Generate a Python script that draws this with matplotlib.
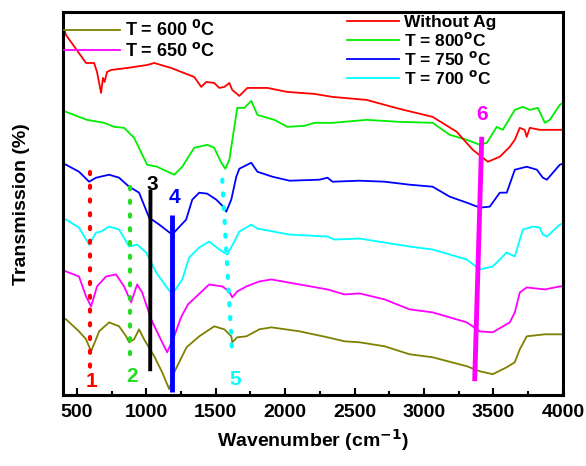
import numpy as np
import matplotlib
matplotlib.use('Agg')
import matplotlib.pyplot as plt

plt.rcParams['font.family'] = ['Liberation Sans', 'DejaVu Sans']
plt.rcParams['font.weight'] = 'bold'
plt.rcParams['mathtext.default'] = 'bf'

# espectros FTIR (desplazados verticalmente, unidades arbitrarias)
w_sin = [405, 422, 566, 624, 645, 674, 688, 700, 717, 746, 862, 1006, 1057, 1179, 1345, 1396,
         1432, 1489, 1526, 1562, 1598, 1619, 1670, 1728, 1872, 2016, 2211, 2341, 2586, 2824,
         3062, 3236, 3351, 3460, 3546, 3618, 3654, 3690, 3725, 3740, 3762, 3834, 4000]
t_sin = [372, 365, 337, 337, 328, 307, 322, 318, 328, 330, 332, 335, 337, 332, 323, 313,
         318, 317, 312, 313, 317, 310, 304, 312, 312, 308, 306, 303, 300, 291,
         283, 268, 250, 238, 243, 253, 260, 272, 270, 263, 272, 270, 270]

w_800 = [405, 422, 573, 696, 768, 840, 912, 1006, 1078, 1201, 1259, 1345, 1439, 1489, 1540,
         1569, 1598, 1655, 1706, 1756, 1800, 1922, 2016, 2139, 2211, 2341, 2586, 2824, 3062,
         3185, 3308, 3402, 3453, 3524, 3567, 3654, 3712, 3762, 3820, 3870, 3906, 3978, 4000]
t_800 = [289, 288, 280, 277, 273, 272, 262, 235, 233, 225, 233, 252, 255, 252, 237,
         231, 240, 292, 292, 299, 285, 280, 273, 274, 277, 277, 280, 278, 277,
         265, 260, 255, 257, 273, 270, 290, 293, 290, 292, 277, 280, 295, 297]

w_750 = [405, 422, 515, 588, 638, 732, 804, 876, 948, 1020, 1093, 1186, 1287, 1331, 1381,
         1439, 1504, 1547, 1576, 1612, 1648, 1670, 1756, 1800, 1908, 2031, 2247, 2305, 2341,
         2536, 2716, 2896, 3062, 3185, 3308, 3402, 3474, 3546, 3596, 3654, 3740, 3813, 3856,
         3885, 3978, 4000]
t_750 = [236, 235, 228, 218, 222, 225, 222, 213, 207, 182, 175, 165, 180, 200, 207,
         206, 200, 194, 188, 200, 223, 231, 237, 228, 223, 219, 220, 222, 218,
         219, 218, 215, 213, 203, 197, 192, 193, 207, 207, 230, 233, 230, 222,
         220, 235, 236]

w_700 = [405, 422, 515, 588, 638, 674, 732, 804, 876, 934, 999, 1071, 1143, 1186, 1259,
         1309, 1381, 1453, 1526, 1583, 1634, 1670, 1756, 1800, 2031, 2305, 2355, 2536, 2716,
         2896, 3062, 3308, 3402, 3495, 3596, 3654, 3712, 3784, 3834, 3856, 3885, 3978, 4000]
t_700 = [181, 180, 172, 155, 167, 168, 173, 170, 153, 155, 147, 127, 113, 105, 120,
         142, 152, 158, 150, 145, 158, 168, 175, 171, 165, 163, 160, 161, 157,
         153, 150, 140, 130, 133, 147, 143, 170, 173, 172, 165, 163, 175, 176]

w_650 = [405, 422, 515, 566, 602, 624, 645, 710, 782, 840, 891, 934, 970, 1035, 1093,
         1150, 1201, 1250, 1300, 1453, 1547, 1598, 1619, 1655, 1721, 1814, 1901, 2103, 2305,
         2427, 2536, 2716, 2896, 3062, 3308, 3402, 3495, 3618, 3654, 3690, 3740, 3870, 3978, 4000]
t_650 = [129, 128, 123, 103, 93, 103, 113, 123, 125, 113, 97, 115, 107, 80, 63,
         47, 63, 82, 95, 115, 113, 108, 102, 108, 113, 118, 120, 115, 110,
         105, 106, 100, 90, 87, 77, 68, 67, 77, 87, 107, 112, 110, 113, 113]

w_600 = [405, 422, 515, 566, 602, 638, 660, 732, 804, 855, 876, 912, 948, 984, 1057,
         1114, 1165, 1201, 1290, 1381, 1489, 1562, 1612, 1619, 1655, 1721, 1814, 1901, 2103,
         2305, 2427, 2536, 2716, 2896, 3062, 3308, 3402, 3495, 3596, 3654, 3690, 3740, 3870, 4000]
t_600 = [81, 80, 68, 60, 48, 60, 68, 77, 73, 63, 57, 60, 70, 60, 43,
         27, 10, 27, 52, 63, 73, 70, 63, 57, 62, 63, 70, 72, 68,
         62, 58, 57, 53, 45, 42, 33, 28, 25, 32, 37, 50, 63, 65, 65]

# posiciones de las bandas marcadas (x arriba, x abajo, y arriba, y abajo)
bandas = ['1', '2', '3', '4', '5', '6']
b_x1 = [595, 883, 1030, 1186, 1547, 3416]
b_x2 = [595, 883, 1028, 1186, 1619, 3365]
b_y1 = [228, 213, 210, 185, 220, 263]
b_y2 = [30, 42, 28, 7, 45, 18]
lbl_x = [602, 898, 1042, 1201, 1640, 3416]
lbl_y = [18, 23, 215, 202, 20, 285]

fig = plt.figure(figsize=(5.86, 4.66), dpi=100)
ax = fig.add_axes([0.1075, 0.152, 0.853, 0.822])

l600, = ax.plot(w_600, t_600, color='#808000', lw=1.3, label='T = 600 $^{0}$C')
l650, = ax.plot(w_650, t_650, color='#ff00ff', lw=1.3, label='T = 650 $^{o}$C')
l700, = ax.plot(w_700, t_700, color='#00ffff', lw=1.3, label='T = 700 $^{o}$C')
l750, = ax.plot(w_750, t_750, color='#0000ff', lw=1.3, label='T = 750 $^{o}$C')
l800, = ax.plot(w_800, t_800, color='#00ee00', lw=1.3, label='T = 800$^{o}$C')
lsin, = ax.plot(w_sin, t_sin, color='#ff0000', lw=1.3, label='Without Ag')

# lineas de las bandas
punteado = (0, (0.5, 2.8))
estilos = [punteado, punteado, '-', '-', punteado, '-']
anchos = [3.0, 3.0, 2.8, 3.5, 3.0, 3.5]
colores = ['#ff0000', '#22dd22', 'black', '#0000ff', '#00ffff', '#ff00ff']
for i in range(len(bandas)):
    ax.plot([b_x1[i], b_x2[i]], [b_y1[i], b_y2[i]], color=colores[i], lw=anchos[i],
            ls=estilos[i], solid_capstyle='butt', dash_capstyle='round')
    ax.text(lbl_x[i], lbl_y[i], bandas[i], color=colores[i], fontsize=15,
            fontweight='bold', ha='center', va='center')

ax.set_xlim(400, 4000)
ax.set_ylim(4, 388)
ax.set_xticks(np.arange(500, 4001, 500))
ax.set_xticks(np.arange(500, 4001, 250), minor=True)
ax.set_yticks([])
ax.tick_params(axis='x', which='major', direction='in', length=5, width=1.5,
               labelsize=14, pad=6, top=False)
ax.tick_params(axis='x', which='minor', direction='in', length=3, width=1.5, top=False)
for s in ax.spines.values():
    s.set_linewidth(2.2)

ax.set_xlabel('Wavenumber (cm$^{-1}$)', fontsize=14, fontweight='bold', labelpad=5)
ax.set_ylabel('Transmission (%)', fontsize=14, fontweight='bold', labelpad=24)

leg1 = fig.legend(handles=[l600, l650], loc='upper left',
                  bbox_to_anchor=(64/586, (466-20)/466), frameon=False,
                  fontsize=13, handlelength=3.1, handletextpad=0.3,
                  borderpad=0, borderaxespad=0, labelspacing=0.1)
leg2 = fig.legend(handles=[lsin, l800, l750, l700], loc='upper left',
                  bbox_to_anchor=(347/586, (466-15)/466), frameon=False,
                  fontsize=12.5, handlelength=3.0, handletextpad=0.3,
                  borderpad=0, borderaxespad=0, labelspacing=0.05)

plt.savefig('out.png', dpi=100)
